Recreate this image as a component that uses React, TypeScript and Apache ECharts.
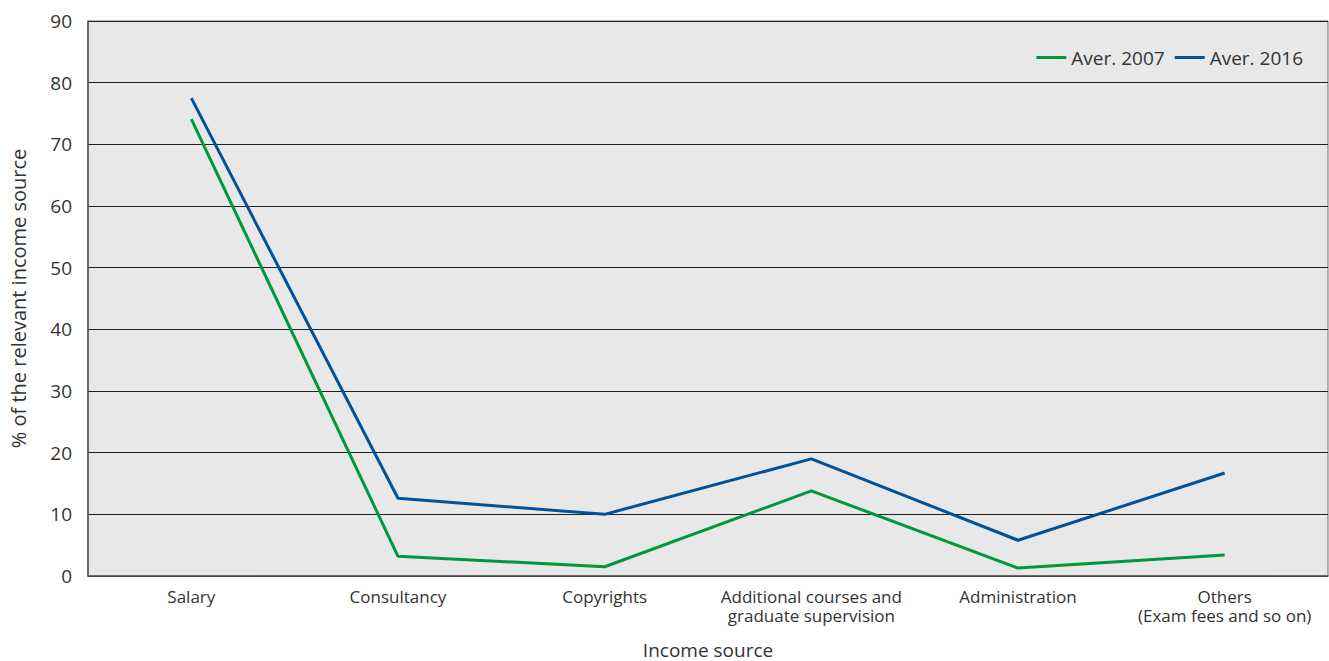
import React, { useEffect, useRef } from "react";
import * as echarts from "echarts";

const categories = [
  "Salary",
  "Consultancy",
  "Copyrights",
  "Additional courses and\ngraduate supervision",
  "Administration",
  "Others\n(Exam fees and so on)",
];
const aver2007 = [74.1, 3.2, 1.5, 13.8, 1.3, 3.4];
const aver2016 = [77.5, 12.6, 10.0, 19.0, 5.8, 16.7];

const FONT = "'Open Sans', 'Noto Sans', sans-serif";
const TEXT = "#333333";

export default function App() {
  const ref = useRef<HTMLDivElement>(null);

  useEffect(() => {
    if (!ref.current) return;
    const chart = echarts.init(ref.current, undefined, { renderer: "svg" });
    chart.setOption({
      animation: false,
      backgroundColor: "#ffffff",
      textStyle: { fontFamily: FONT, color: TEXT },
      grid: {
        left: 88,
        top: 21,
        right: 1,
        bottom: 85,
        outerBoundsMode: "none",
        containLabel: false,
        show: true,
        backgroundColor: "#e8e8e8",
        borderColor: "#707070",
        borderWidth: 1,
      },
      legend: {
        right: 21,
        top: 43,
        icon: "rect",
        itemWidth: 30,
        itemHeight: 3,
        itemGap: 10,
        textStyle: { fontFamily: FONT, fontSize: 19, color: TEXT },
        data: ["Aver. 2007", "Aver. 2016"],
      },
      xAxis: {
        type: "category",
        data: categories,
        boundaryGap: true,
        name: "Income source",
        nameLocation: "middle",
        nameGap: 64,
        nameTextStyle: { fontFamily: FONT, fontSize: 19, color: TEXT },
        axisLine: { show: true, lineStyle: { color: "#555555", width: 1.5 } },
        axisTick: { show: false },
        axisLabel: {
          fontFamily: FONT,
          fontSize: 17,
          color: TEXT,
          margin: 11,
          lineHeight: 19,
          interval: 0,
        },
      },
      yAxis: {
        type: "value",
        min: 0,
        max: 90,
        interval: 10,
        name: "% of the relevant income source",
        nameLocation: "middle",
        nameGap: 60,
        nameTextStyle: { fontFamily: FONT, fontSize: 20, color: TEXT },
        axisLine: { show: true, lineStyle: { color: "#555555", width: 1.5 } },
        axisTick: { show: false },
        axisLabel: { fontFamily: FONT, fontSize: 19, color: TEXT, margin: 16 },
        splitLine: { show: true, lineStyle: { color: "#222222", width: 1 } },
      },
      series: [
        {
          name: "Aver. 2007",
          type: "line",
          data: aver2007,
          symbol: "none",
          lineStyle: { color: "#00973f", width: 3 },
          itemStyle: { color: "#00973f" },
        },
        {
          name: "Aver. 2016",
          type: "line",
          data: aver2016,
          symbol: "none",
          lineStyle: { color: "#00529b", width: 3 },
          itemStyle: { color: "#00529b" },
        },
      ],
    });
    return () => chart.dispose();
  }, []);

  return (
    <div
      ref={ref}
      style={{ position: "fixed", left: 0, top: 0, width: 1329, height: 661 }}
    />
  );
}
